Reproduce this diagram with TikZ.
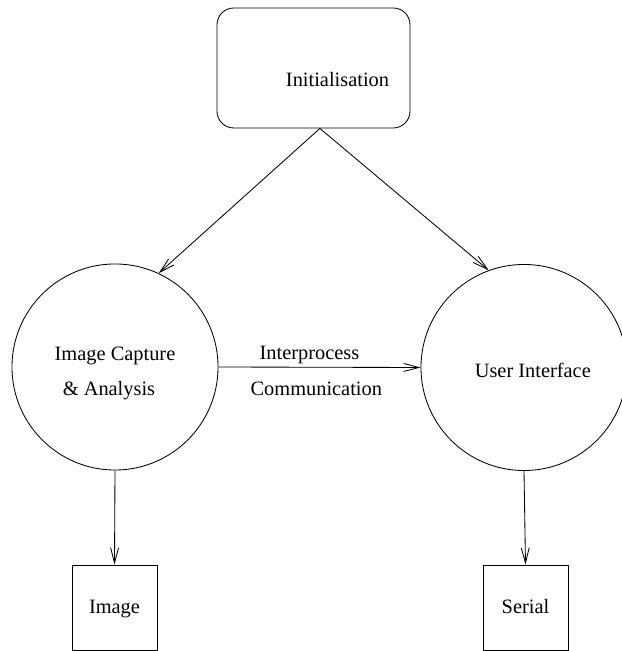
\documentclass[tikz,border=0pt]{standalone}
\usepackage{fontspec}
\setmainfont{Liberation Serif}
\usetikzlibrary{arrows.meta}

\begin{document}
\begin{tikzpicture}[x=0.025cm, y=0.025cm, line width=0.6pt,
    font=\fontsize{14.5}{17}\selectfont,
    proc/.style={draw, circle, minimum size=5.15cm, inner sep=0pt},
    dev/.style={draw, minimum size=2.125cm, inner sep=0pt, text height=0.9em, text depth=0pt},
    arr/.style={-{Straight Barb[length=3.8mm, width=2mm]}}]
\useasboundingbox (0,0) rectangle (622,651);

% start box
\node[draw, rounded corners=12pt, minimum width=4.825cm, minimum height=3cm,
      label={[xshift=0.6cm, yshift=-0.3cm]center:Initialisation}] (init) at (313.5,583) {};
\coordinate (split) at ([xshift=0.16cm]init.south);

% the two processes
\node[proc, label={[align=center, yshift=-0.16cm]center:Image Capture\\[8pt]\& Analysis\hspace*{0.3cm}}] (capture) at (115,284) {};
\node[proc, label={[xshift=0.22cm, yshift=-0.08cm]center:User Interface}] (ui) at (524,283.5) {};

% devices
\node[dev] (image) at (114.5,43.5) {Image};
\node[dev] (serial) at (525.5,43.5) {Serial};

\draw[arr] (split) -- (capture.65);
\draw[arr] (split) -- (ui.110);
\draw[arr] (capture.east) -- (ui.west)
    node[midway, above=-1pt, xshift=-0.25cm] {Interprocess}
    node[midway, below=7pt, xshift=-0.08cm] {Communication};
\draw[arr] (capture.south) -- (image.north);
\draw[arr] (ui.south) -- (serial.north);
\end{tikzpicture}
\end{document}
